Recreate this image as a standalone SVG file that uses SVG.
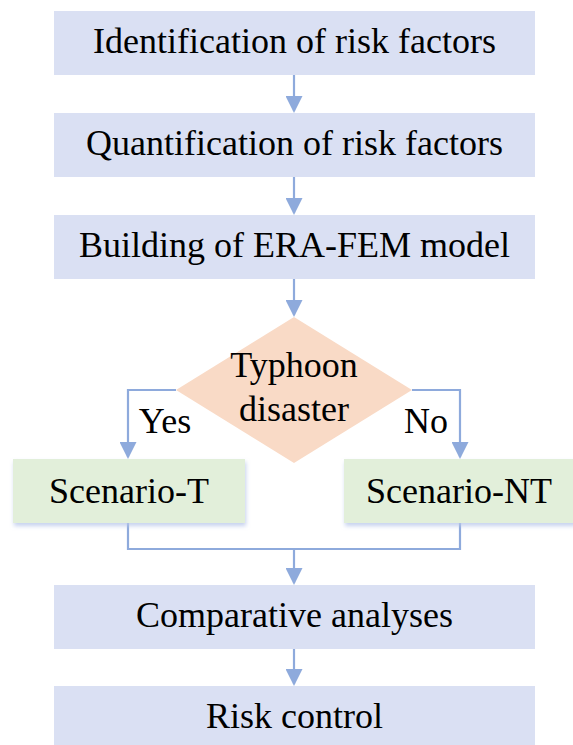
<svg xmlns="http://www.w3.org/2000/svg" width="573" height="745" viewBox="0 0 573 745">
<style>
.blue{fill:#dae0f3}
.green{fill:#e2efda}
.dia{fill:#f9dac6}
.t{font-family:"Liberation Serif","Times New Roman",serif;font-size:36px;fill:#000;text-anchor:middle}
.c{fill:none;stroke:#8eaadc;stroke-width:2.2}
</style>
<defs>
<marker id="ah" markerUnits="userSpaceOnUse" markerWidth="17" markerHeight="17" refX="15" refY="8.5" orient="auto">
<path d="M0,0 L17,8.5 L0,17 z" fill="#8eaadc"/>
</marker>
<filter id="sh" x="-10%" y="-20%" width="125%" height="150%">
<feDropShadow dx="1" dy="3" stdDeviation="2" flood-color="#b7c6ea" flood-opacity="0.8"/>
</filter>
</defs>
<rect width="573" height="745" fill="#fff"/>
<g id="connectors">
<path class="c" d="M294,75 V111" marker-end="url(#ah)"/>
<path class="c" d="M294,177 V213" marker-end="url(#ah)"/>
<path class="c" d="M294,279 V315" marker-end="url(#ah)"/>
<path class="c" d="M176,390 H128 V457" marker-end="url(#ah)"/>
<path class="c" d="M412,390 H460 V457" marker-end="url(#ah)"/>
<path class="c" d="M128,523 V549 H460 V523"/>
<path class="c" d="M294,549 V583" marker-end="url(#ah)"/>
<path class="c" d="M294,649 V684" marker-end="url(#ah)"/>
</g>
<g id="n1"><rect class="blue" x="54" y="11" width="481" height="64"/><text class="t" x="294.5" y="53">Identification of risk factors</text></g>
<g id="n2"><rect class="blue" x="54" y="113" width="481" height="64"/><text class="t" x="294.5" y="155">Quantification of risk factors</text></g>
<g id="n3"><rect class="blue" x="54" y="215" width="481" height="64"/><text class="t" x="294.5" y="257">Building of ERA-FEM model</text></g>
<g id="decision"><polygon class="dia" points="294,317 412,390 294,463 176,390"/><text class="t" x="294" y="377">Typhoon</text><text class="t" x="294" y="421">disaster</text></g>
<g id="labels"><text class="t" x="165" y="433">Yes</text><text class="t" x="426" y="433">No</text></g>
<g id="n4"><rect class="green" x="13" y="459" width="232" height="64" filter="url(#sh)"/><text class="t" x="129" y="503">Scenario-T</text></g>
<g id="n5"><rect class="green" x="344" y="459" width="232" height="64" filter="url(#sh)"/><text class="t" x="459" y="503">Scenario-NT</text></g>
<g id="n6"><rect class="blue" x="54" y="585" width="481" height="64"/><text class="t" x="294.5" y="627">Comparative analyses</text></g>
<g id="n7"><rect class="blue" x="54" y="686" width="481" height="64"/><text class="t" x="294.5" y="728">Risk control</text></g>
</svg>
